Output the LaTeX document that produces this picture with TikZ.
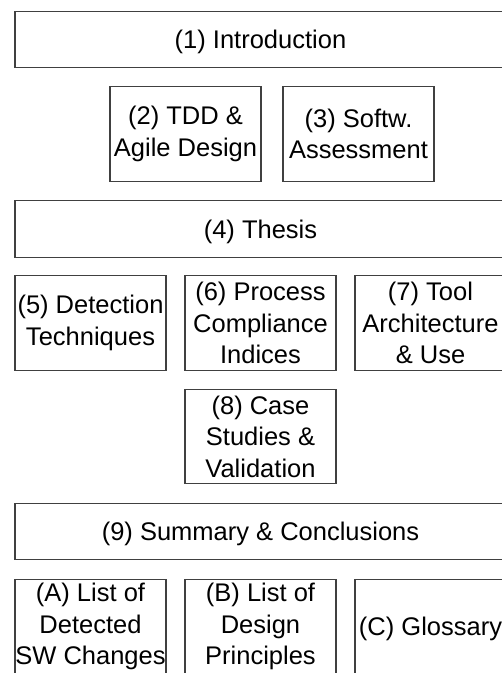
\documentclass[tikz,border=0pt]{standalone}
\usepackage{fontspec}
\setmainfont{Liberation Sans}
\begin{document}
\begin{tikzpicture}[x=1pt,y=-1pt,
  box/.style={draw=black!75, line width=1.4pt, inner sep=0pt, align=center,
    text=black, font=\fontsize{25.5}{31.5}\selectfont},
  oneline/.style={text height=18.3pt, text depth=0pt},
  wide/.style={box, oneline, minimum width=491pt, minimum height=56.5pt},
  chap/.style={box, minimum width=151pt, minimum height=94.5pt}]
\useasboundingbox (0,0) rectangle (502,673);
\clip (0,0) rectangle (502,673);

% introductory part
\node[wide] (intro) at (260.5,39.5) {(1) Introduction};
\node[chap] (tdd) at (185.5,134) {(2) TDD \&\\Agile Design};
\node[chap] (assess) at (358.5,134) {(3) Softw.\\Assessment};

% main part
\node[wide] (thesis) at (260.5,229) {(4) Thesis};
\node[chap] (detect) at (90.5,323) {(5) Detection\\Techniques};
\node[chap] (indices) at (260.5,323) {(6) Process\\Compliance\\Indices};
\node[chap] (tool) at (430.5,323) {(7) Tool\\Architecture\\\& Use};
\node[chap] (cases) at (260.5,436.5) {(8) Case\\Studies \&\\Validation};

% closing part and appendices
\node[wide] (summary) at (260.5,531.5) {(9) Summary \& Conclusions};
\node[chap] (appA) at (90.5,626.5) {(A) List of\\Detected\\SW Changes};
\node[chap] (appB) at (260.5,626.5) {(B) List of\\Design\\Principles};
\node[chap, oneline] (appC) at (430.5,626.5) {(C) Glossary};
\end{tikzpicture}
\end{document}
